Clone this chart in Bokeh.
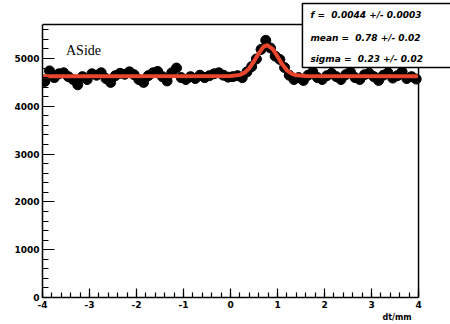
from bokeh.plotting import figure
from bokeh.models import Label, FixedTicker, Range1d, PrintfTickFormatter, Title
from bokeh.embed import file_html
from bokeh.resources import INLINE

# data: bin centers and counts
bin_x = [-3.95 + 0.1 * i for i in range(80)]
counts = [4520, 4740, 4600, 4680, 4700, 4620, 4560, 4450, 4620, 4560,
          4680, 4650, 4700, 4580, 4500, 4640, 4690, 4670, 4720, 4660,
          4560, 4500, 4640, 4700, 4730, 4620, 4530, 4700, 4800, 4600,
          4560, 4620, 4580, 4650, 4600, 4640, 4680, 4700, 4650, 4610,
          4620, 4640, 4600, 4720, 4830, 4990, 5190, 5380, 5220, 5050,
          4980, 4810, 4650, 4560, 4600, 4540, 4650, 4720, 4600, 4560,
          4640, 4690, 4620, 4560, 4660, 4720, 4600, 4560, 4660, 4690,
          4620, 4540, 4650, 4700, 4590, 4640, 4720, 4580, 4620, 4570]

# fit curve sampled values
fit_x = [-4.0, 0.0, 0.2, 0.3, 0.4, 0.5, 0.6, 0.7, 0.78, 0.9, 1.0, 1.1, 1.2, 1.3, 1.4, 1.6, 4.0]
fit_y = [4630, 4632, 4657, 4703, 4796, 4940, 5108, 5242, 5280, 5197, 5041, 4877, 4753, 4681, 4647, 4632, 4630]

x_major = [-4, -3, -2, -1, 0, 1, 2, 3, 4]
x_minor = [round(-4 + 0.2 * i, 1) for i in range(41)]
y_major = [0, 1000, 2000, 3000, 4000, 5000]
y_minor = [200 * i for i in range(29)]

stats_lines = ["f =\u00a0 0.0044 +/- 0.0003", "mean =\u00a0 0.78 +/- 0.02", "sigma =\u00a0 0.23 +/- 0.02"]
stats_y = [5900, 5430, 4990]
title_text = "ASide"
x_title = "dt/mm"

X_MIN, X_MAX, Y_MAX = -4, 4, 5710

p = figure(width=450, height=324, output_backend="svg", toolbar_location=None,
           x_range=Range1d(-4, 4.68), y_range=Range1d(0, 6213),
           min_border_left=42, min_border_right=0, min_border_top=0, min_border_bottom=27)
p.grid.visible = False
p.outline_line_color = None
p.background_fill_color = "white"
p.border_fill_color = "white"

for ax in (p.xaxis[0], p.yaxis[0]):
    ax.axis_line_color = "black"
    ax.axis_line_width = 1.5
    ax.major_tick_line_color = "black"
    ax.minor_tick_line_color = "black"
    ax.major_tick_line_width = 1.2
    ax.minor_tick_line_width = 1.2
    ax.major_tick_out = 0
    ax.minor_tick_out = 0
    ax.major_label_text_font = "DejaVu Sans"
    ax.major_label_text_font_style = "bold"
    ax.major_label_text_font_size = "9px"
    ax.major_label_text_color = "black"

p.xaxis.ticker = FixedTicker(ticks=x_major, minor_ticks=x_minor)
p.yaxis.ticker = FixedTicker(ticks=y_major, minor_ticks=y_minor)
p.xaxis.formatter = PrintfTickFormatter(format="%d")
p.xaxis.bounds = (X_MIN, X_MAX)
p.yaxis.bounds = (0, Y_MAX)
p.xaxis.major_tick_in = 9
p.xaxis.minor_tick_in = 5
p.yaxis.major_tick_in = 12
p.yaxis.minor_tick_in = 6
p.xaxis.major_label_standoff = 3
p.yaxis.major_label_standoff = 3

p.scatter(bin_x, counts, size=10, color="black")
p.line(fit_x, fit_y, line_color="#e8452c", line_width=4)

# frame top and right edges
p.segment(x0=[X_MIN, X_MAX], y0=[Y_MAX, 0], x1=[1.53, X_MAX], y1=[Y_MAX, Y_MAX],
          line_color="black", line_width=1.5)

# stats box
p.quad(left=[1.53], right=[4.9], bottom=[4812], top=[6151],
       fill_color="white", line_color="black", line_width=1.5)
for t, yy in zip(stats_lines, stats_y):
    p.add_layout(Label(x=1.70, y=yy, text=t, text_font="DejaVu Sans",
                       text_font_style="bold italic", text_font_size="9px", text_color="black",
                       text_align="left", text_baseline="middle"))

p.add_layout(Label(x=-3.5, y=5000, text=title_text, text_font="Liberation Serif",
                   text_font_size="14px", text_color="black", text_baseline="bottom"))

p.add_layout(Title(text=x_title, align="left", offset=340, standoff=0,
                   text_font="DejaVu Sans", text_font_style="bold", text_font_size="8px",
                   text_color="black"), "below")

open("out.html", "w").write(file_html(p, INLINE))
